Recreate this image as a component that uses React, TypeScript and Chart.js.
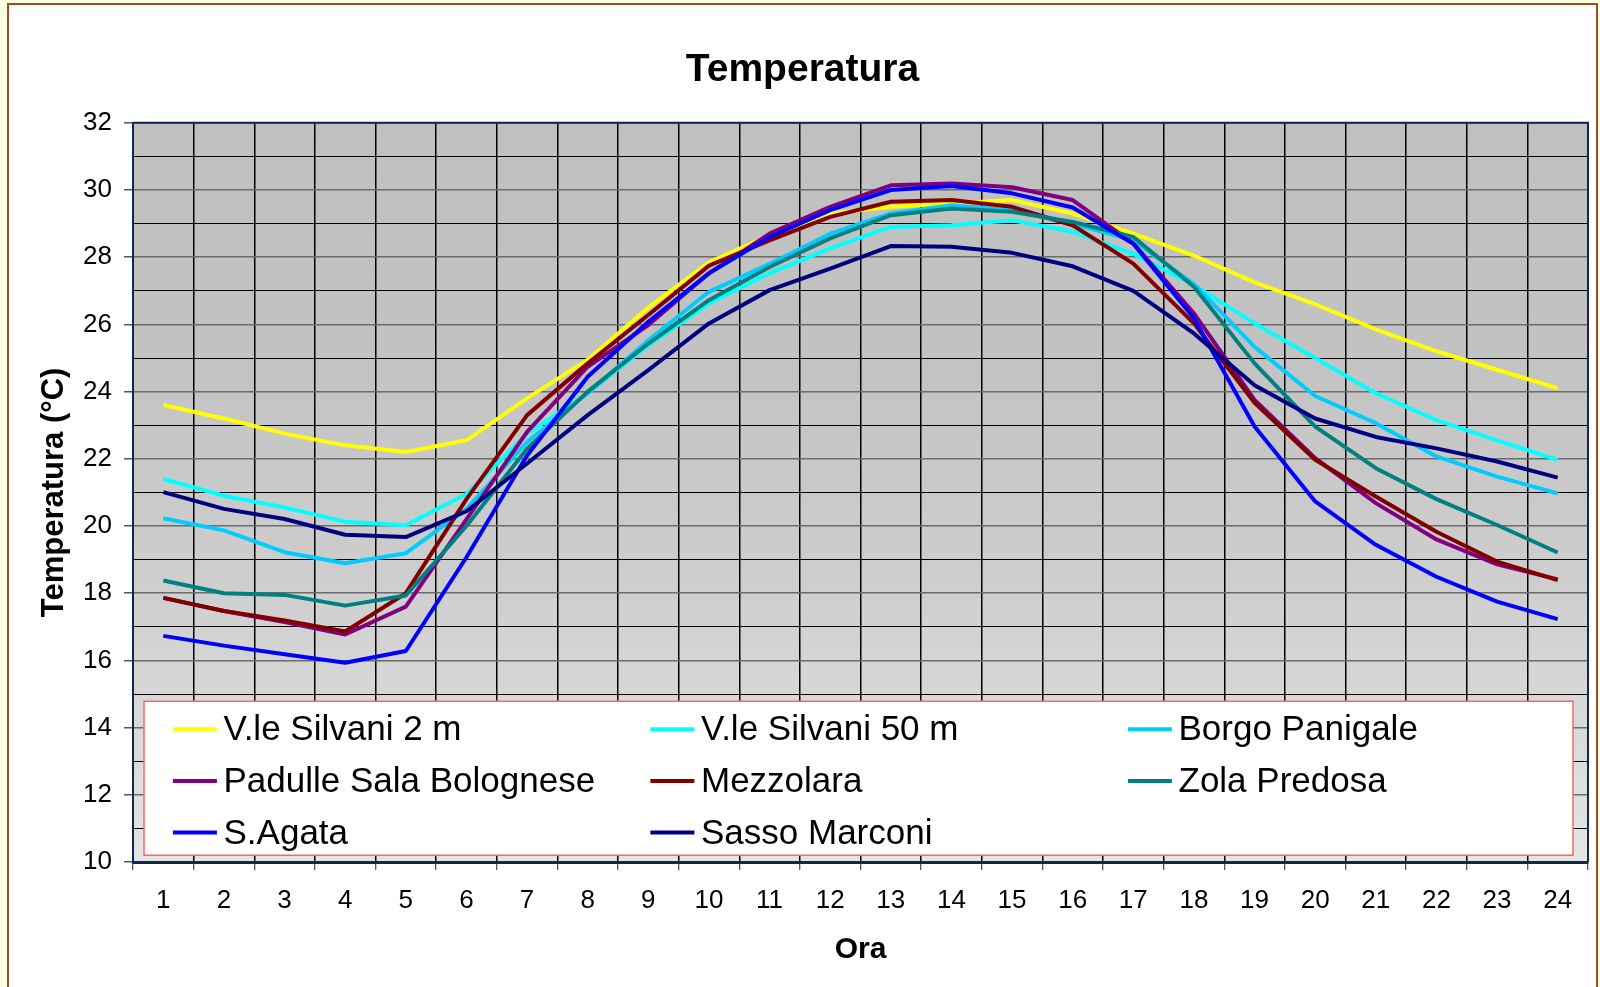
import React, { useEffect, useRef } from 'react';
import { Chart, registerables } from 'chart.js';

Chart.register(...registerables);

const FONT = "Arial, 'Liberation Sans', Helvetica, sans-serif";

// Hours of the day (x axis categories)
const hours = ['1', '2', '3', '4', '5', '6', '7', '8', '9', '10', '11', '12', '13', '14', '15', '16', '17', '18', '19', '20', '21', '22', '23', '24'];

// Hourly temperatures (°C) per station
const silvani2m = [23.6, 23.2, 22.75, 22.4, 22.2, 22.55, 23.8, 24.95, 26.5, 27.85, 28.65, 29.3, 29.5, 29.6, 29.7, 29.3, 28.7, 28.05, 27.25, 26.6, 25.85, 25.2, 24.65, 24.1];
const silvani50m = [21.4, 20.9, 20.55, 20.13, 20.02, 20.95, 22.75, 23.95, 25.38, 26.62, 27.52, 28.26, 28.9, 28.95, 29.1, 28.76, 28.1, 27.17, 26.03, 25.0, 23.95, 23.15, 22.55, 21.97];
const borgoPanigale = [20.23, 19.87, 19.22, 18.89, 19.19, 20.5, 22.5, 23.95, 25.53, 26.97, 27.8, 28.7, 29.3, 29.55, 29.4, 29.0, 28.5, 27.2, 25.33, 23.87, 23.06, 22.07, 21.47, 20.97];
const padulle = [17.86, 17.47, 17.14, 16.77, 17.6, 20.2, 22.8, 24.74, 25.98, 27.52, 28.7, 29.5, 30.14, 30.19, 30.08, 29.7, 28.41, 26.33, 23.75, 22.02, 20.68, 19.6, 18.86, 18.41];
const mezzolara = [17.86, 17.47, 17.19, 16.86, 18.0, 20.8, 23.3, 24.84, 26.28, 27.75, 28.5, 29.2, 29.65, 29.7, 29.5, 28.95, 27.81, 26.03, 23.67, 21.97, 20.88, 19.83, 18.94, 18.39];
const zolaPredosa = [18.38, 18.0, 17.95, 17.63, 17.93, 20.0, 22.3, 24.0, 25.43, 26.72, 27.71, 28.56, 29.25, 29.45, 29.35, 29.05, 28.6, 27.12, 24.84, 22.96, 21.72, 20.8, 20.03, 19.21];
const sAgata = [16.73, 16.44, 16.18, 15.93, 16.28, 19.07, 22.1, 24.44, 26.08, 27.52, 28.6, 29.4, 30.0, 30.12, 29.9, 29.48, 28.4, 26.18, 22.96, 20.73, 19.44, 18.49, 17.75, 17.23];
const sassoMarconi = [21.01, 20.51, 20.21, 19.74, 19.67, 20.44, 21.86, 23.3, 24.64, 26.03, 27.02, 27.66, 28.33, 28.31, 28.13, 27.73, 27.0, 25.73, 24.19, 23.2, 22.65, 22.31, 21.92, 21.44];

const stationNames = ['V.le Silvani 2 m', 'V.le Silvani 50 m', 'Borgo Panigale', 'Padulle Sala Bolognese', 'Mezzolara', 'Zola Predosa', 'S.Agata', 'Sasso Marconi'];
const stationSeries = [silvani2m, silvani50m, borgoPanigale, padulle, mezzolara, zolaPredosa, sAgata, sassoMarconi];
const stationColors = ['#FFFF00', '#00FFFF', '#00CCFF', '#800080', '#800000', '#008080', '#0000FF', '#000080'];

const FRAME_BLUE = '#0D2A4C';

// Grey gradient behind the plotting area
const plotBackground = {
  id: 'plotBackground',
  beforeDraw(chart: any) {
    const { ctx, chartArea } = chart;
    if (!chartArea) return;
    const g = ctx.createLinearGradient(0, chartArea.top, 0, chartArea.bottom);
    g.addColorStop(0, '#C0C0C0');
    g.addColorStop(0.3, '#C2C2C2');
    g.addColorStop(0.6, '#CDCDCD');
    g.addColorStop(1, '#E4E4E4');
    ctx.save();
    ctx.fillStyle = g;
    ctx.fillRect(chartArea.left, chartArea.top, chartArea.right - chartArea.left, chartArea.bottom - chartArea.top);
    ctx.restore();
  },
};

// Legend box placed inside the lower part of the plotting area
const stationLegend = {
  id: 'stationLegend',
  afterDatasetsDraw(chart: any) {
    const { ctx, chartArea } = chart;
    const left = chartArea.left + 10.5;
    const right = chartArea.right - 14.5;
    const top = chartArea.bottom - 161.3;
    const bottom = chartArea.bottom - 6.3;
    ctx.save();
    ctx.fillStyle = '#FFFFFF';
    ctx.fillRect(left, top, right - left, bottom - top);
    ctx.strokeStyle = '#FF3C3C';
    ctx.lineWidth = 1.2;
    ctx.strokeRect(left + 0.5, top + 0.5, right - left - 1, bottom - top - 1);
    ctx.font = `35px ${FONT}`;
    ctx.textBaseline = 'middle';
    ctx.textAlign = 'left';
    chart.data.datasets.forEach((ds: any, i: number) => {
      const col = i % 3;
      const row = Math.floor(i / 3);
      const x0 = left + 29.4 + col * 477.5;
      const y = top + 28.5 + row * 51.7;
      ctx.strokeStyle = ds.borderColor;
      ctx.lineWidth = 4;
      ctx.beginPath();
      ctx.moveTo(x0, y);
      ctx.lineTo(x0 + 44, y);
      ctx.stroke();
      ctx.fillStyle = '#000000';
      ctx.fillText(ds.label, x0 + 50.6, y + 1.5);
    });
    ctx.restore();
  },
};

// Top and right edges of the plotting frame
const plotFrame = {
  id: 'plotFrame',
  afterDraw(chart: any) {
    const { ctx, chartArea } = chart;
    ctx.save();
    ctx.strokeStyle = FRAME_BLUE;
    ctx.lineWidth = 2;
    ctx.beginPath();
    ctx.moveTo(chartArea.left, chartArea.top);
    ctx.lineTo(chartArea.right, chartArea.top);
    ctx.lineTo(chartArea.right, chartArea.bottom);
    ctx.stroke();
    ctx.restore();
  },
};

const isEven = (ctx: any) => !!ctx.tick && Math.round(ctx.tick.value) % 2 === 0;

export default function App() {
  const canvasRef = useRef<HTMLCanvasElement | null>(null);

  useEffect(() => {
    if (!canvasRef.current) return;
    const n = stationNames.length;
    const chart = new Chart(canvasRef.current, {
      type: 'line',
      data: {
        labels: hours,
        datasets: stationNames.map((name, i) => ({
          label: name,
          data: stationSeries[i],
          borderColor: stationColors[i],
          backgroundColor: stationColors[i],
          borderWidth: 4,
          borderJoinStyle: 'round' as const,
          pointRadius: 0,
          tension: 0,
          fill: false,
          order: n - i,
        })),
      },
      options: {
        responsive: false,
        animation: false,
        devicePixelRatio: 1,
        layout: { padding: { left: 17, right: 12, top: 0, bottom: 0 } },
        plugins: {
          legend: { display: false },
          tooltip: { enabled: false },
          title: {
            display: true,
            text: 'Temperatura',
            color: '#000',
            font: { family: FONT, size: 39, weight: 'bold', lineHeight: 1.2 },
            padding: { top: 47, bottom: 29 },
          },
        },
        scales: {
          x: {
            type: 'category',
            offset: true,
            grid: {
              offset: true,
              color: '#000000',
              lineWidth: 1.5,
              tickLength: 8,
              tickColor: '#222222',
              tickWidth: 1,
            },
            border: { color: FRAME_BLUE, width: 3 },
            ticks: {
              color: '#000',
              font: { family: FONT, size: 26 },
              padding: 15,
              maxRotation: 0,
              autoSkip: false,
            },
            title: {
              display: true,
              text: 'Ora',
              color: '#000',
              font: { family: FONT, size: 30, weight: 'bold', lineHeight: 1.2 },
              padding: { top: 0, bottom: 19 },
            },
            afterFit: (s: any) => {
              s.height = 125;
            },
          },
          y: {
            min: 10,
            max: 32,
            ticks: {
              stepSize: 1,
              autoSkip: false,
              color: '#000',
              font: { family: FONT, size: 26 },
              padding: 12,
              callback: (v: any) => (Math.round(Number(v)) % 2 === 0 ? String(v) : ''),
            },
            grid: {
              color: (ctx: any) => (isEven(ctx) ? '#6B6B6B' : '#000000'),
              lineWidth: (ctx: any) => (isEven(ctx) ? 1.5 : 1),
              tickLength: 9,
              tickColor: (ctx: any) => (isEven(ctx) ? '#555555' : 'rgba(0,0,0,0)'),
            },
            border: { color: FRAME_BLUE, width: 2 },
            title: {
              display: true,
              text: 'Temperatura (°C)',
              color: '#000',
              font: { family: FONT, size: 31, weight: 'bold', lineHeight: 1.2 },
              padding: { top: 19, bottom: 0 },
            },
            afterFit: (s: any) => {
              s.width = 116;
            },
          },
        },
      } as any,
      plugins: [plotBackground, stationLegend, plotFrame],
    });
    return () => chart.destroy();
  }, []);

  return (
    <div style={{ position: 'fixed', left: 0, top: 0, width: 1600, height: 987, background: '#FFFFE5', overflow: 'hidden' }}>
      <div
        style={{
          position: 'absolute',
          left: 7,
          top: 3,
          width: 1587,
          height: 1100,
          border: '2px solid #A24A1A',
          background: '#FFFFFF',
        }}
      />
      <canvas
        ref={canvasRef}
        width={1600}
        height={987}
        style={{ position: 'absolute', left: 0, top: 0, width: 1600, height: 987, display: 'block' }}
      />
    </div>
  );
}
